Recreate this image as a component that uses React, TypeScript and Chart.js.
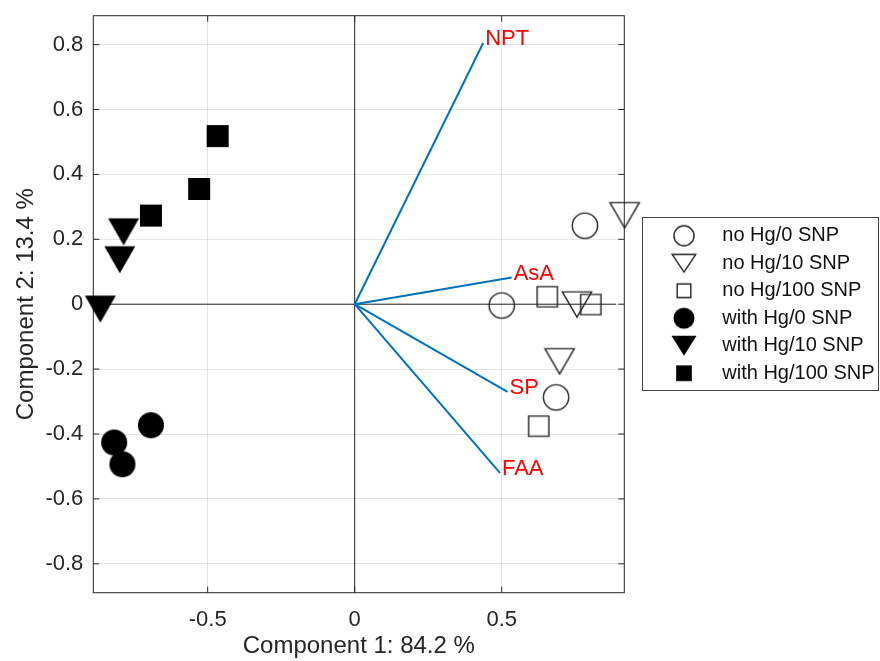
import React, { useEffect, useRef } from 'react';
import { Chart, registerables } from 'chart.js';
Chart.register(...registerables);

const FONT = '"Liberation Sans", Arial, Helvetica, sans-serif';

// Axis limits and ticks
const xLimits = [-0.889, 0.917];
const yLimits = [-0.889, 0.889];
const xTicks = [-0.5, 0, 0.5];
const yTicks = [-0.8, -0.6, -0.4, -0.2, 0, 0.2, 0.4, 0.6, 0.8];
const xTitle = 'Component 1: 84.2 %';
const yTitle = 'Component 2: 13.4 %';

// Group names (legend order)
const groupNames = [
  'no Hg/0 SNP',
  'no Hg/10 SNP',
  'no Hg/100 SNP',
  'with Hg/0 SNP',
  'with Hg/10 SNP',
  'with Hg/100 SNP',
];

// Scores (component 1, component 2)
const noHg0X = [0.783, 0.5, 0.685];
const noHg0Y = [0.242, -0.004, -0.287];
const noHg10X = [0.918, 0.756, 0.697];
const noHg10Y = [0.274, -0.001, -0.176];
const noHg100X = [0.655, 0.803, 0.626];
const noHg100Y = [0.023, -0.001, -0.376];
const withHg0X = [-0.693, -0.818, -0.79];
const withHg0Y = [-0.373, -0.426, -0.493];
const withHg10X = [-0.786, -0.799, -0.865];
const withHg10Y = [0.223, 0.137, -0.015];
const withHg100X = [-0.466, -0.529, -0.693];
const withHg100Y = [0.518, 0.355, 0.273];

// Loadings
const varNames = ['NPT', 'AsA', 'SP', 'FAA'];
const loadX = [0.437, 0.534, 0.52, 0.494];
const loadY = [0.805, 0.082, -0.27, -0.52];

// Biplot axis lines half-length
const axisLineLen = 0.889;

type Shape = 'circle' | 'tri' | 'rect';

function makeMarker(shape: Shape, filled: boolean, w: number, h: number, lw = 1.4) {
  const c = document.createElement('canvas');
  let W = Math.ceil(w) + 4;
  let H = Math.ceil(h) + 4;
  if (W % 2) W++;
  if (H % 2) H++;
  c.width = W;
  c.height = H;
  const ctx = c.getContext('2d')!;
  const cx = W / 2;
  const cy = H / 2;
  const ww = filled ? w : w - lw;
  const hh = filled ? h : h - lw;
  ctx.beginPath();
  if (shape === 'circle') {
    ctx.arc(cx, cy, ww / 2, 0, Math.PI * 2);
  } else if (shape === 'tri') {
    ctx.moveTo(cx - ww / 2, cy - hh / 2);
    ctx.lineTo(cx + ww / 2, cy - hh / 2);
    ctx.lineTo(cx, cy + hh / 2);
    ctx.closePath();
  } else {
    ctx.rect(cx - ww / 2, cy - hh / 2, ww, hh);
  }
  if (filled) {
    ctx.fillStyle = '#000';
    ctx.fill();
  } else {
    ctx.strokeStyle = '#222';
    ctx.lineWidth = lw;
    ctx.lineJoin = 'miter';
    ctx.stroke();
  }
  return c;
}

function pts(xs: number[], ys: number[]) {
  return xs.map((x, i) => ({ x, y: ys[i] }));
}

function fmt(v: number) {
  const r = Math.round(v * 10) / 10;
  return r === 0 ? '0' : String(r);
}

function noScalePadding(s: any) {
  s.paddingTop = 0;
  s.paddingBottom = 0;
  s.paddingLeft = 0;
  s.paddingRight = 0;
}

export default function App() {
  const ref = useRef<HTMLCanvasElement>(null);

  useEffect(() => {
    if (!ref.current) return;

    const mk = {
      oc: makeMarker('circle', false, 26.7, 26.7),
      ot: makeMarker('tri', false, 30.7, 26.7),
      os: makeMarker('rect', false, 21.7, 21.7),
      fc: makeMarker('circle', true, 26, 26),
      ft: makeMarker('tri', true, 31, 27),
      fs: makeMarker('rect', true, 22, 22),
    };
    const lg = [
      makeMarker('circle', false, 21.5, 21.5),
      makeMarker('tri', false, 25, 19),
      makeMarker('rect', false, 15, 15),
      makeMarker('circle', true, 21, 21),
      makeMarker('tri', true, 25, 20),
      makeMarker('rect', true, 15.7, 15.7),
    ];

    const groups = [
      { data: pts(noHg0X, noHg0Y), style: mk.oc },
      { data: pts(noHg10X, noHg10Y), style: mk.ot },
      { data: pts(noHg100X, noHg100Y), style: mk.os },
      { data: pts(withHg0X, withHg0Y), style: mk.fc },
      { data: pts(withHg10X, withHg10Y), style: mk.ft },
      { data: pts(withHg100X, withHg100Y), style: mk.fs },
    ];

    const datasets: any[] = [];
    groups.forEach((g, i) => {
      datasets.push({
        label: groupNames[i],
        data: g.data,
        pointStyle: g.style,
        pointRadius: 14,
        showLine: false,
        clip: false,
        order: 1,
      });
    });
    varNames.forEach((n, i) => {
      datasets.push({
        label: n,
        data: [
          { x: 0, y: 0 },
          { x: loadX[i], y: loadY[i] },
        ],
        showLine: true,
        borderColor: '#0072BD',
        borderWidth: 2,
        pointRadius: 0,
        clip: false,
        order: 2,
      });
    });
    datasets.push({
      label: 'axisH',
      data: [
        { x: -axisLineLen, y: 0 },
        { x: axisLineLen, y: 0 },
      ],
      showLine: true,
      borderColor: '#262626',
      borderWidth: 1,
      pointRadius: 0,
      order: 3,
    });
    datasets.push({
      label: 'axisV',
      data: [
        { x: 0, y: -axisLineLen },
        { x: 0, y: axisLineLen },
      ],
      showLine: true,
      borderColor: '#262626',
      borderWidth: 1,
      pointRadius: 0,
      order: 3,
    });

    const boxPlugin = {
      id: 'boxPlugin',
      beforeDatasetsDraw(chart: any) {
        const { ctx, chartArea: a, scales } = chart;
        ctx.save();
        ctx.strokeStyle = '#262626';
        ctx.lineWidth = 1;
        ctx.strokeRect(a.left, a.top, a.right - a.left, a.bottom - a.top);
        const tl = 6;
        ctx.beginPath();
        xTicks.forEach((v) => {
          const px = scales.x.getPixelForValue(v);
          ctx.moveTo(px, a.bottom);
          ctx.lineTo(px, a.bottom - tl);
          ctx.moveTo(px, a.top);
          ctx.lineTo(px, a.top + tl);
        });
        yTicks.forEach((v) => {
          const py = scales.y.getPixelForValue(v);
          ctx.moveTo(a.left, py);
          ctx.lineTo(a.left + tl, py);
          ctx.moveTo(a.right, py);
          ctx.lineTo(a.right - tl, py);
        });
        ctx.stroke();
        ctx.restore();
      },
      afterDatasetsDraw(chart: any) {
        const { ctx, scales } = chart;
        ctx.save();
        ctx.fillStyle = '#FF0000';
        ctx.font = `22px ${FONT}`;
        ctx.textAlign = 'left';
        ctx.textBaseline = 'middle';
        varNames.forEach((n, i) => {
          const px = scales.x.getPixelForValue(loadX[i]);
          const py = scales.y.getPixelForValue(loadY[i]);
          ctx.fillText(n, px + 2, py - 4);
        });
        ctx.restore();
      },
      afterDraw(chart: any) {
        const { ctx } = chart;
        ctx.save();
        const L = 642.5, T = 217.5, R = 878.5, B = 390.5;
        ctx.fillStyle = '#fff';
        ctx.fillRect(L, T, R - L, B - T);
        ctx.strokeStyle = '#444';
        ctx.lineWidth = 1;
        ctx.strokeRect(L, T, R - L, B - T);
        ctx.font = `20px ${FONT}`;
        ctx.fillStyle = '#111';
        ctx.textAlign = 'left';
        ctx.textBaseline = 'middle';
        groupNames.forEach((n, i) => {
          const cy = 235.7 + i * 27.5;
          const m = lg[i];
          ctx.drawImage(m, 684 - m.width / 2, cy - m.height / 2);
          ctx.fillText(n, 722.3, cy);
        });
        ctx.restore();
      },
    };

    const chart = new Chart(ref.current, {
      type: 'scatter',
      data: { datasets },
      options: {
        animation: false,
        responsive: false,
        events: [],
        devicePixelRatio: 1,
        layout: { padding: { left: 0, top: 15.7, right: 255.7, bottom: 0 } },
        plugins: {
          legend: { display: false },
          tooltip: { enabled: false },
        },
        scales: {
          x: {
            type: 'linear',
            min: xLimits[0],
            max: xLimits[1],
            afterBuildTicks: (s: any) => {
              s.ticks = xTicks.map((v) => ({ value: v }));
            },
            afterFit: (s: any) => {
              s.height = 68.3;
              noScalePadding(s);
            },
            grid: { color: 'rgba(0,0,0,0.1)', drawTicks: false, lineWidth: 1 },
            border: { display: false },
            ticks: {
              font: { family: FONT, size: 22 },
              color: '#262626',
              padding: 14,
              maxRotation: 0,
              callback: (v: any) => fmt(Number(v)),
            },
            title: {
              display: true,
              text: xTitle,
              font: { family: FONT, size: 24 },
              color: '#262626',
              padding: { top: 0, bottom: 0 },
            },
          },
          y: {
            type: 'linear',
            min: yLimits[0],
            max: yLimits[1],
            afterBuildTicks: (s: any) => {
              s.ticks = yTicks.map((v) => ({ value: v }));
            },
            afterFit: (s: any) => {
              s.width = 93.3;
              noScalePadding(s);
            },
            grid: { color: 'rgba(0,0,0,0.1)', drawTicks: false, lineWidth: 1 },
            border: { display: false },
            ticks: {
              font: { family: FONT, size: 22 },
              color: '#262626',
              padding: 10,
              callback: (v: any) => fmt(Number(v)),
            },
            title: {
              display: true,
              text: yTitle,
              font: { family: FONT, size: 24 },
              color: '#262626',
              padding: { top: 11.5, bottom: 0 },
            },
          },
        },
      },
      plugins: [boxPlugin],
    } as any);

    return () => chart.destroy();
  }, []);

  return (
    <div style={{ position: 'absolute', left: 0, top: 0, width: 880, height: 661, background: '#fff' }}>
      <canvas ref={ref} width={880} height={661} style={{ display: 'block' }} />
    </div>
  );
}
